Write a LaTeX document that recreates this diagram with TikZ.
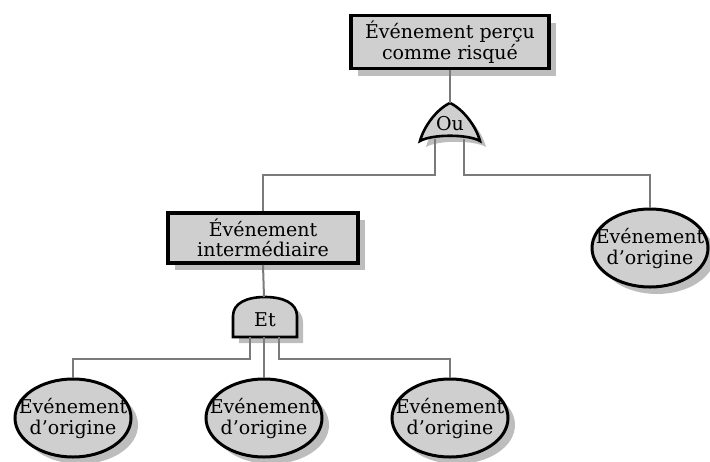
\documentclass[tikz,border=0pt]{standalone}
\usepackage{fontspec}
\setmainfont{DejaVu Serif}
\usetikzlibrary{shapes.geometric,shadows}

\definecolor{boxfill}{gray}{0.81}
\definecolor{wire}{gray}{0.48}
\definecolor{shadowgray}{gray}{0.74}

% outlines of the two gates (coordinates in the picture's units)
\newcommand\orgateoutline{(450,103) .. controls (437,109) and (424,126) .. (420,141)
  .. controls (432,134) and (468,134) .. (480,141)
  .. controls (476,126) and (463,109) .. (450,103) -- cycle}
\newcommand\andgateoutline{(233,337) -- (233,316) .. controls (233,303) and (247,297) .. (265,297)
  .. controls (283,297) and (297,303) .. (297,316) -- (297,337) -- cycle}
% two centred lines that do not widen the shape around them
\newcommand\narrowpair[2]{\makebox[0pt]{\begin{tabular}{@{}c@{}}#1\\#2\end{tabular}}}

\begin{document}
\begin{tikzpicture}[x=1pt,y=-1pt,
  shade fill/.style={fill=shadowgray},
  eventbox/.style={rectangle, draw=black, line width=3.8pt, fill=boxfill,
    align=center, inner sep=0pt, font=\fontsize{19}{20.5}\selectfont,
    general shadow={shade fill, shadow xshift=7pt, shadow yshift=-7pt}},
  basic/.style={ellipse, draw=black, line width=3pt, fill=boxfill,
    inner sep=0pt, minimum width=116pt, minimum height=78pt,
    font=\fontsize{19}{19.5}\selectfont,
    general shadow={shade fill, shadow xshift=7pt, shadow yshift=-7pt}},
  gate/.style={draw=black, line width=2.6pt, fill=boxfill},
  gatelabel/.style={inner sep=0pt, font=\fontsize{19}{20}\selectfont},
  connector/.style={draw=wire, line width=2pt}
]
\useasboundingbox (0,0) rectangle (710,461);

% events
\node[eventbox, minimum width=198pt, minimum height=53pt] (top) at (450,42)
  {Événement perçu\\comme risqué};
\node[eventbox, minimum width=190pt, minimum height=50pt] (inter) at (263,238)
  {Événement\\intermédiaire};
\node[basic] (ev1) at (73,418) {\narrowpair{Événement}{d’origine}};
\node[basic] (ev2) at (264,418) {\narrowpair{Événement}{d’origine}};
\node[basic] (ev3) at (450,418) {\narrowpair{Événement}{d’origine}};
\node[basic] (ev4) at (650,248) {\narrowpair{Événement}{d’origine}};

% OR gate
\fill[shade fill, shift={(6,6)}] \orgateoutline;
\path[gate] \orgateoutline;
\node[gatelabel] (orlabel) at (450,124) {Ou};
\coordinate (orTop) at (450,103);
\coordinate (orL) at (435,139);
\coordinate (orR) at (464,139);

% AND gate
\fill[shade fill, shift={(6,6)}] \andgateoutline;
\path[gate] \andgateoutline;
\node[gatelabel] (andlabel) at (265,320) {Et};
\coordinate (andTop) at (264,297);
\coordinate (andA) at (250,337);
\coordinate (andB) at (264,337);
\coordinate (andC) at (279,337);

% levels of the horizontal runs
\coordinate (busOr) at (0,175);
\coordinate (busAnd) at (0,359);

% connectors
\draw[connector] (top.south) -- (orTop);
\draw[connector] (orL) -- (orL |- busOr) -| (inter.north);
\draw[connector] (orR) -- (orR |- busOr) -| (ev4.north);
\draw[connector] (inter.south) -- (andTop);
\draw[connector] (andA) -- (andA |- busAnd) -| (ev1.north);
\draw[connector] (andB) -- (ev2.north);
\draw[connector] (andC) -- (andC |- busAnd) -| (ev3.north);
\end{tikzpicture}
\end{document}
